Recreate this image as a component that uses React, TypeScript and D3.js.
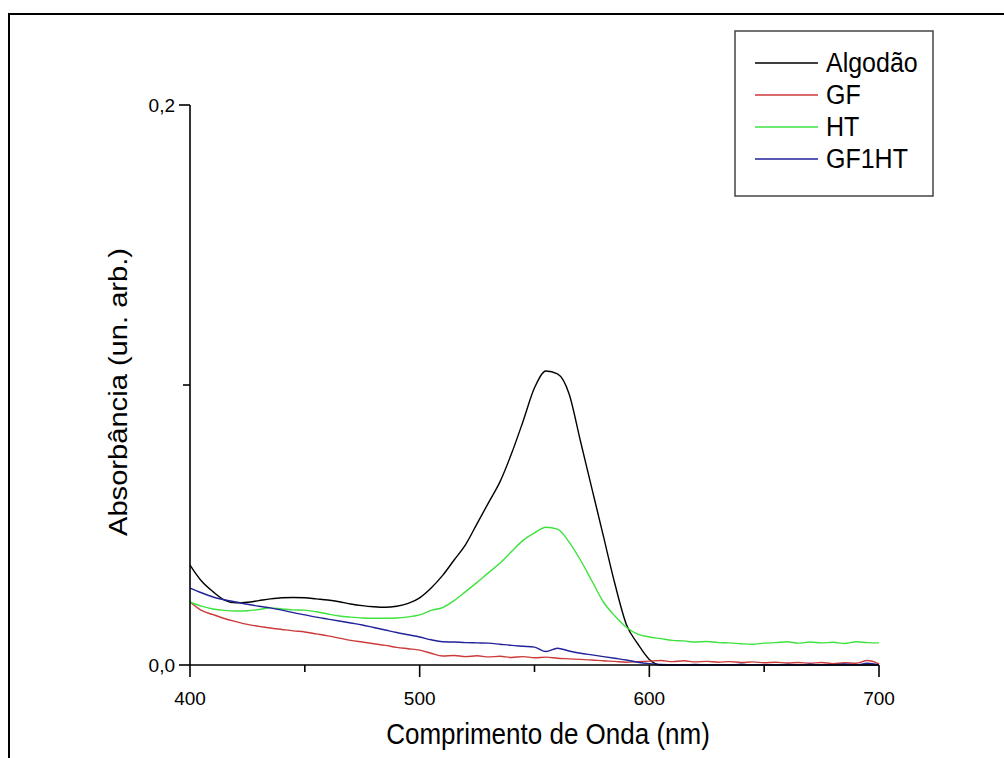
import React from "react";
import * as d3 from "d3";

const wavelengths = [
  400, 405, 410, 415, 420, 425, 430, 435, 440, 445, 450, 455, 460, 465, 470, 475, 480, 485, 490, 495,
  500, 505, 510, 515, 520, 525, 530, 535, 540, 545, 550, 555, 560, 565, 570, 575, 580, 585, 590, 595,
  600, 605, 610, 615, 620, 625, 630, 635, 640, 645, 650, 655, 660, 665, 670, 675, 680, 685, 690, 695, 700,
];

const algodao = [
  0.0357, 0.03, 0.0262, 0.0232, 0.0222, 0.0224, 0.023, 0.0236, 0.024, 0.0241, 0.024, 0.0236, 0.0232, 0.0226, 0.0218, 0.0212, 0.0208, 0.0206, 0.021, 0.022,
  0.024, 0.0275, 0.032, 0.0375, 0.043, 0.0505, 0.058, 0.0655, 0.0755, 0.087, 0.099, 0.105, 0.104, 0.097, 0.08, 0.063, 0.046, 0.029, 0.0145, 0.0075,
  0.002, 0.0, 0.0, 0.0, 0.0, 0.0, 0.0, 0.0, 0.0, 0.0, 0.0, 0.0, 0.0, 0.0, 0.0, 0.0, 0.0, 0.0, 0.0, 0.0, 0.0,
];

const gf = [
  0.0225, 0.0195, 0.018, 0.0166, 0.0155, 0.0145, 0.0138, 0.0132, 0.0127, 0.0122, 0.0118, 0.0111, 0.0104, 0.0096, 0.0088, 0.0082, 0.0076, 0.007, 0.0063, 0.0058,
  0.0053, 0.0042, 0.0032, 0.0034, 0.003, 0.0033, 0.0029, 0.0031, 0.0027, 0.003, 0.0026, 0.0028, 0.0024, 0.0022, 0.002, 0.0018, 0.0015, 0.0013, 0.001, 0.0012,
  0.0014, 0.0016, 0.0012, 0.0015, 0.0011, 0.0013, 0.001, 0.0012, 0.0009, 0.0011, 0.0008, 0.001, 0.0007, 0.0009, 0.0006, 0.0009, 0.0005, 0.0008, 0.0006, 0.0016, 0.0004,
];

const ht = [
  0.0225, 0.021, 0.02, 0.0195, 0.0193, 0.0194, 0.0198, 0.0204, 0.02, 0.0197, 0.0196, 0.019, 0.0182, 0.0175, 0.0171, 0.0168, 0.0167, 0.0167, 0.0168, 0.0172,
  0.0179, 0.0195, 0.0205, 0.023, 0.0262, 0.0295, 0.033, 0.0364, 0.0405, 0.0445, 0.0472, 0.0492, 0.0485, 0.044, 0.0375, 0.03, 0.0225, 0.0175, 0.0135, 0.011,
  0.01, 0.0094, 0.0088, 0.0086, 0.0082, 0.0084, 0.008, 0.0079, 0.0076, 0.0074, 0.0078, 0.008, 0.0083, 0.0078, 0.0082, 0.0079, 0.0081, 0.0077, 0.0083, 0.008, 0.0079,
];

const gf1ht = [
  0.0275, 0.0258, 0.0243, 0.0233, 0.0225, 0.0217, 0.021, 0.0204, 0.0196, 0.0187, 0.0179, 0.0171, 0.0164, 0.0157, 0.015, 0.0143, 0.0134, 0.0125, 0.0116, 0.0108,
  0.01, 0.009, 0.0083, 0.0082, 0.008, 0.0079, 0.0078, 0.0074, 0.007, 0.0067, 0.0064, 0.0048, 0.006, 0.005, 0.0042, 0.0036, 0.003, 0.0024, 0.0018, 0.001,
  0.0005, 0.0002, 0.0001, 0.0, 0.0002, 0.0, 0.0001, 0.0, 0.0003, 0.0, 0.0001, 0.0, 0.0002, 0.0, 0.0003, 0.0, 0.0001, 0.0004, 0.0, 0.0006, 0.0,
];

const seriesNames = ["Algodão", "GF", "HT", "GF1HT"];
const seriesColors = ["#000000", "#cc3a3a", "#3ee23e", "#22229a"];
const seriesValues = [algodao, gf, ht, gf1ht];

const xMajorTicks = [400, 500, 600, 700];
const xMinorTicks = [450, 550, 650];
const yMajorTicks = [0.0, 0.2];
const yMinorTicks = [0.1];

const FONT = "'Liberation Sans', Arial, Helvetica, sans-serif";

export default function App() {
  const x = d3.scaleLinear().domain([400, 700]).range([190, 879]);
  const y = d3.scaleLinear().domain([0, 0.2]).range([665, 105]);
  const fmt = (v: number) => v.toFixed(1).replace(".", ",");

  const line = d3
    .line<number>()
    .x((_, i) => x(wavelengths[i]))
    .y((d) => y(d))
    .curve(d3.curveMonotoneX);

  return (
    <svg
      width={1004}
      height={758}
      style={{ position: "absolute", left: 0, top: 0, background: "#fff" }}
      fontFamily={FONT}
    >
      <rect x={0} y={0} width={1004} height={758} fill="#fff" />
      <rect x={9} y={14} width={1010} height={760} fill="none" stroke="#000" strokeWidth={2} />

      {seriesValues.map((vals, i) => (
        <path key={i} d={line(vals) || ""} fill="none" stroke={seriesColors[i]} strokeWidth={1.4} />
      ))}

      {/* axes */}
      <line x1={x(400)} x2={x(700)} y1={y(0)} y2={y(0)} stroke="#000" strokeWidth={1.6} />
      <line x1={x(400)} x2={x(400)} y1={y(0)} y2={y(0.2)} stroke="#000" strokeWidth={1.6} />

      {xMajorTicks.map((t) => (
        <g key={"xm" + t}>
          <line x1={x(t)} x2={x(t)} y1={y(0)} y2={y(0) + 12} stroke="#000" strokeWidth={1.6} />
          <text x={x(t)} y={705} textAnchor="middle" fontSize={19}>
            {t}
          </text>
        </g>
      ))}
      {xMinorTicks.map((t) => (
        <line key={"xn" + t} x1={x(t)} x2={x(t)} y1={y(0)} y2={y(0) + 7} stroke="#000" strokeWidth={1.6} />
      ))}
      {yMajorTicks.map((t) => (
        <g key={"ym" + t}>
          <line x1={x(400) - 11} x2={x(400)} y1={y(t)} y2={y(t)} stroke="#000" strokeWidth={1.6} />
          <text x={175} y={y(t) + 7} textAnchor="end" fontSize={19}>
            {fmt(t)}
          </text>
        </g>
      ))}
      {yMinorTicks.map((t) => (
        <line key={"yn" + t} x1={x(400) - 7} x2={x(400)} y1={y(t)} y2={y(t)} stroke="#000" strokeWidth={1.6} />
      ))}

      <text transform="translate(548,744) scale(1,1.1)" textAnchor="middle" fontSize={26}>
        Comprimento de Onda (nm)
      </text>
      <text transform="translate(127,392) rotate(-90) scale(1.12,1)" textAnchor="middle" fontSize={26}>
        Absorbância (un. arb.)
      </text>

      {/* legend */}
      <rect x={735} y={31} width={198} height={165} fill="#fff" stroke="#444" strokeWidth={1.5} />
      {seriesNames.map((n, i) => {
        const cy = 63 + i * 32;
        return (
          <g key={n}>
            <line x1={755} x2={818} y1={cy} y2={cy} stroke={seriesColors[i]} strokeWidth={1.4} />
            <text transform={`translate(826,${cy + 9}) scale(1,1.08)`} fontSize={25}>
              {n}
            </text>
          </g>
        );
      })}
    </svg>
  );
}
